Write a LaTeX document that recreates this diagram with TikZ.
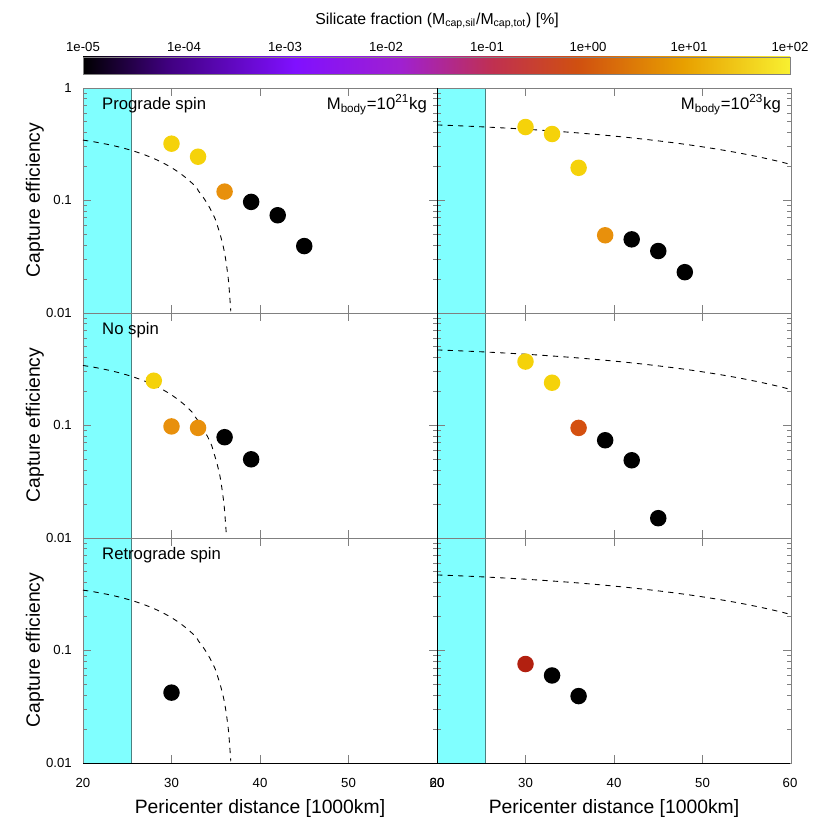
\documentclass[tikz,border=0pt]{standalone}
\usepackage{fontspec}
\setmainfont{Liberation Sans}
\usetikzlibrary{calc}

\definecolor{palyel}{HTML}{F5D20A}
\definecolor{palorg}{HTML}{E8900C}
\definecolor{palror}{HTML}{D45010}
\definecolor{palred}{HTML}{B22010}
\definecolor{bandcyan}{HTML}{80FFFF}
\definecolor{frameg}{HTML}{808080}
\definecolor{cbA}{HTML}{400080}
\definecolor{cbB}{HTML}{8010FF}
\definecolor{cbC}{HTML}{A020D0}
\definecolor{cbD}{HTML}{C03050}
\definecolor{cbE}{HTML}{D05010}
\definecolor{cbF}{HTML}{E8A000}
\definecolor{cbG}{HTML}{F8F030}
\pgfdeclarehorizontalshading{silpal}{100bp}{color(0bp)=(black); color(25bp)=(black); color(31bp)=(cbA); color(40bp)=(cbB); color(47.5bp)=(cbC); color(54bp)=(cbD); color(60bp)=(cbE); color(67.5bp)=(cbF); color(75bp)=(cbG); color(100bp)=(cbG)}

\begin{document}
\begin{tikzpicture}[font=\sffamily,
  panel/.style 2 args={shift={({1.66+7.08*#1},{-6.26-4.5*#2})},x=0.177cm,y=2.25cm},
  dot/.style={circle,inner sep=0pt,minimum size=0.33cm},
  frame/.style={draw=frameg,line width=0.5pt},
  limit/.style={dashed,line width=0.5pt},
  ticklab/.style={font=\fontsize{7.5}{8}\selectfont},
  axlab/.style={font=\fontsize{11}{12}\selectfont},
  tag/.style={font=\fontsize{9.5}{11}\selectfont,anchor=west}]

  \useasboundingbox (0,0) rectangle (16.6,-16.6);

  % colour bar
  \shade[shading=silpal] (1.66,-1.14) rectangle (15.8,-1.48);
  \draw[frame] (1.66,-1.14) rectangle (15.8,-1.48);
  \node[font=\fontsize{9}{10}\selectfont] (cbtitle) at (8.74,-0.42) {Silicate fraction (M\textsubscript{cap,sil}/M\textsubscript{cap,tot}) [\%]};
  \foreach \e/\l [count=\i from 0] in {-05/1e-05,-04/1e-04,-03/1e-03,-02/1e-02,-01/1e-01,+00/1e+00,+01/1e+01,+02/1e+02}
    \node[ticklab] (cb\i) at ({1.66+2.02*\i},-0.94) {\l};

  % panels
  \foreach \c in {0,1}
    \foreach \r in {0,1,2} {
      \begin{scope}[panel={\c}{\r}]
        \fill[bandcyan] (0,0) rectangle (5.5,2);
        \draw[teal!40!gray,line width=0.4pt] (5.5,0) -- (5.5,2);
        \draw[frame] (0,0) rectangle (40,2);
        \foreach \d in {0,1}
          \foreach \m in {2,...,9} {
            \draw[frame] (0,{\d+log10(\m)}) -- (0.45,{\d+log10(\m)});
            \draw[frame] (40,{\d+log10(\m)}) -- (39.55,{\d+log10(\m)});
          }
        \foreach \d in {0,1,2} {
          \draw[frame] (0,\d) -- (0.9,\d);
          \draw[frame] (40,\d) -- (39.1,\d);
        }
        \foreach \t in {10,20,30} {
          \draw[frame] (\t,0) -- (\t,0.07);
          \draw[frame] (\t,2) -- (\t,1.93);
        }
      \end{scope}
    }
  \draw[line width=0.5pt] (1.66,-15.26) -- (15.8,-15.26);
  \draw[line width=0.5pt] (8.74,-1.76) -- (8.74,-15.26);

  % limiting curves
  \foreach \r/\xc in {0/37,1/36.5,2/37} {
    \begin{scope}[panel={0}{\r}]
      \draw[limit] plot[domain=0:{\xc-20-0.3},samples=70,smooth] (\x,{log10(0.4*(1-((\x+20)/\xc)^3.2))+2});
    \end{scope}
    \begin{scope}[panel={1}{\r}]
      \draw[limit] plot[domain=0:40,samples=30,smooth] (\x,{log10(0.5*(1-((\x+20)/78)^2.06))+2});
    \end{scope}
  }

  % measured capture efficiencies
  \begin{scope}[panel={0}{0}]
    \foreach \px/\v/\col [count=\i] in {30/0.32/palyel,33/0.245/palyel,36/0.12/palorg,39/0.097/black,42/0.073/black,45/0.039/black}
      \node[dot,fill=\col] (pl\i) at (\px-20,{log10(\v)+2}) {};
  \end{scope}
  \begin{scope}[panel={1}{0}]
    \foreach \px/\v/\col [count=\i] in {30/0.45/palyel,33/0.39/palyel,36/0.195/palyel,39/0.049/palorg,42/0.045/black,45/0.035/black,48/0.023/black}
      \node[dot,fill=\col] (pr\i) at (\px-20,{log10(\v)+2}) {};
  \end{scope}
  \begin{scope}[panel={0}{1}]
    \foreach \px/\v/\col [count=\i] in {28/0.25/palyel,30/0.098/palorg,33/0.095/palorg,36/0.078/black,39/0.05/black}
      \node[dot,fill=\col] (nl\i) at (\px-20,{log10(\v)+2}) {};
  \end{scope}
  \begin{scope}[panel={1}{1}]
    \foreach \px/\v/\col [count=\i] in {30/0.37/palyel,33/0.24/palyel,36/0.095/palror,39/0.073/black,42/0.049/black,45/0.015/black}
      \node[dot,fill=\col] (nr\i) at (\px-20,{log10(\v)+2}) {};
  \end{scope}
  \begin{scope}[panel={0}{2}]
    \node[dot,fill=black] (rl1) at (10,{log10(0.042)+2}) {};
  \end{scope}
  \begin{scope}[panel={1}{2}]
    \foreach \px/\v/\col [count=\i] in {30/0.075/palred,33/0.06/black,36/0.039/black}
      \node[dot,fill=\col] (rr\i) at (\px-20,{log10(\v)+2}) {};
  \end{scope}

  % labels
  \node[tag] (pro) at (1.92,-2.1) {Prograde spin};
  \node[tag] (nos) at (1.92,-6.6) {No spin};
  \node[tag] (ret) at (1.92,-11.1) {Retrograde spin};
  \node[tag,anchor=east] (ml) at (8.66,-2.1) {M\textsubscript{body}=10\textsuperscript{21}kg};
  \node[tag,anchor=east] (mr) at (15.74,-2.1) {M\textsubscript{body}=10\textsuperscript{23}kg};

  \foreach \y/\l [count=\i] in {1.76/1,4.0/0.1,6.26/0.01,8.5/0.1,10.76/0.01,13.0/0.1,15.26/0.01}
    \node[ticklab,anchor=east] (yl\i) at (1.56,-\y) {\l};
  \foreach \x/\l [count=\i] in {1.66/20,3.43/30,5.2/40,6.97/50,8.74/60,8.74/20,10.51/30,12.28/40,14.05/50,15.8/60}
    \node[ticklab] (xl\i) at (\x,-15.66) {\l};

  \foreach \y [count=\i] in {4.0,8.5,13.0}
    \node[axlab,rotate=90] (yt\i) at (0.7,-\y) {Capture efficiency};
  \node[axlab] (xt1) at (5.2,-16.16) {Pericenter distance [1000km]};
  \node[axlab] (xt2) at (12.28,-16.16) {Pericenter distance [1000km]};
\end{tikzpicture}
\end{document}
